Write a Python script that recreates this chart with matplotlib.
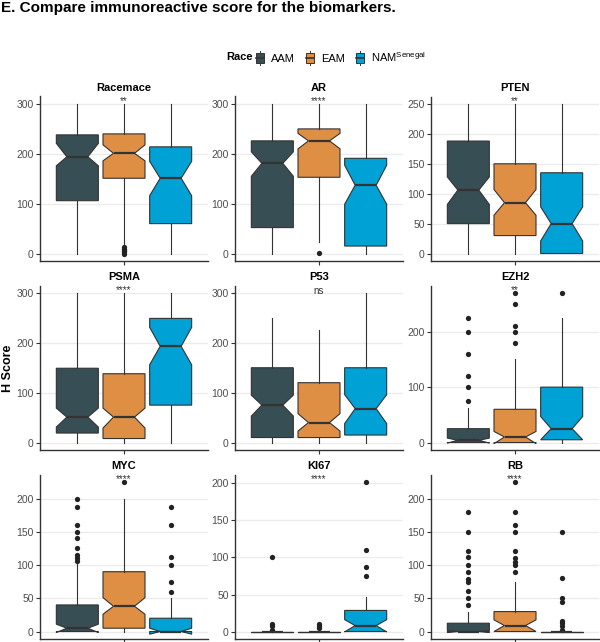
import matplotlib
matplotlib.use("Agg")
import matplotlib.pyplot as plt
from matplotlib.legend_handler import HandlerBase
from matplotlib.lines import Line2D
from matplotlib.patches import Patch, Rectangle

plt.rcParams['font.family'] = ['Liberation Sans', 'DejaVu Sans']
plt.rcParams['mathtext.fontset'] = 'custom'
plt.rcParams['mathtext.rm'] = 'Liberation Sans'

# --- data (H score summary per biomarker, per group) ---
markers = ["Racemace", "AR", "PTEN", "PSMA", "P53", "EZH2", "MYC", "KI67", "RB"]
stars = ["**", "****", "**", "****", "ns", "**", "****", "****", "****"]
groups = ["AAM", "EAM", r"NAM$^{\mathrm{Senegal}}$"]
colors = ["#374E55", "#DF8F44", "#00A1D5"]

# columns: AAM, EAM, NAM
whislo = [[0, 20, 0], [0, 23, 0], [0, 0, 0], [0, 0, 0], [0, 0, 0],
          [0, 0, 0], [0, 0, 0], [0, 0, 0], [0, 0, 0]]
q1 = [[106, 151, 60], [52, 153, 15], [50, 30, 0], [19, 8, 75], [10, 10, 15],
      [0, 0, 5], [0, 5, 0], [0, 0, 0], [0, 0, 0]]
med = [[194, 201, 151], [181, 226, 137], [106, 85, 50], [51, 51, 193], [75, 40, 68],
       [4, 10, 25], [5, 38, 0], [0, 0, 8], [0, 9, 0]]
q3 = [[238, 240, 214], [226, 250, 191], [188, 150, 135], [149, 138, 249], [150, 120, 150],
      [25, 60, 100], [40, 90, 20], [0, 0, 28.5], [12.5, 30, 0]]
whishi = [[300, 300, 300], [300, 300, 300], [250, 250, 250], [300, 300, 300], [250, 225, 300],
          [63, 150, 225], [101, 200, 50], [0, 0, 46.5], [30, 75, 0]]
ci_lo = [[176, 186, 116], [155, 210, 99], [82, 64, 21], [31, 29, 156], [53, 23, 38],
         [-1, -2, 5], [-1.5, 26, -4], [0, 0, -0.5], [-1.5, 0, 0]]
ci_hi = [[221, 218, 185], [204, 241, 177], [128, 107, 78], [69, 69, 231], [95, 58, 96],
         [8, 20, 47], [11, 51, 5], [0, 0, 16], [1.5, 17.5, 0]]
outliers = [
    [[], [0, 3, 5, 8, 10, 13], []],
    [[], [1], []],
    [[], [], []],
    [[], [], []],
    [[], [], []],
    [[75, 100, 120, 160, 200, 225], [180, 200, 210, 250, 270], [270]],
    [[106, 111, 115, 126, 140, 150, 160, 187.5, 200], [225], [60, 75, 100, 112.5, 160, 187.5]],
    [[2, 7, 10, 100], [5, 8, 10], [74.5, 87.5, 110.5, 202]],
    [[40, 50, 61, 74, 79, 90, 100, 112.5, 121, 150, 180],
     [90, 100, 105, 111, 121, 150, 160, 180, 225],
     [2.5, 9, 12.5, 16, 45, 51, 81, 150]],
]
ystep = [100, 100, 50, 100, 100, 100, 50, 50, 50]


class BoxKey(HandlerBase):
    def create_artists(self, legend, orig, xd, yd, w, h, fs, trans):
        x0, y0 = -xd, -yd
        cx = x0 + w / 2
        whisk = Line2D([cx, cx], [y0 - 0.25 * h, y0 + 1.25 * h], color="#333333", lw=0.7, transform=trans)
        box = Rectangle((x0, y0), w, h, facecolor=orig.get_facecolor(), edgecolor="#333333",
                        lw=0.7, transform=trans)
        mid = Line2D([x0, x0 + w], [y0 + h / 2] * 2, color="#333333", lw=1.2, transform=trans)
        return [whisk, box, mid]


fig = plt.figure(figsize=(6.0, 6.42), dpi=100)

col_left = [40, 235, 431]
row_top = [96.5, 285.5, 474.5]
pw, ph = 168, 164.5
pos = [2 / 3, 1, 4 / 3]

for i, name in enumerate(markers):
    r, c = divmod(i, 3)
    ax = fig.add_axes([col_left[c] / 600, 1 - (row_top[r] + ph) / 642, pw / 600, ph / 642])
    stats = []
    for g in range(3):
        stats.append(dict(med=med[i][g], q1=q1[i][g], q3=q3[i][g], whislo=whislo[i][g],
                          whishi=whishi[i][g], cilo=ci_lo[i][g], cihi=ci_hi[i][g],
                          fliers=outliers[i][g]))
    bp = ax.bxp(stats, positions=pos, widths=0.3, patch_artist=True, shownotches=True,
                showcaps=False,
                boxprops=dict(edgecolor="#333333", linewidth=0.8),
                medianprops=dict(color="#333333", linewidth=1.6),
                whiskerprops=dict(color="#333333", linewidth=0.8),
                flierprops=dict(marker="o", markerfacecolor="#222222", markeredgecolor="none",
                                markersize=3.8))
    for patch, col in zip(bp["boxes"], colors):
        patch.set_facecolor(col)

    lo = min(min(whislo[i]), min(min(o) if o else 0 for o in outliers[i]))
    hi = max(max(whishi[i]), max(max(o) if o else 0 for o in outliers[i]))
    pad = (hi - lo) * 0.05
    ax.set_ylim(lo - pad, hi + pad)
    ax.set_yticks([v for v in range(0, int(hi) + 1, ystep[i])])
    ax.set_xlim(0.4, 1.6)
    ax.set_xticks([1])
    ax.set_xticklabels([""])

    ax.yaxis.grid(True, color="#EBEBEB", linewidth=0.9)
    ax.set_axisbelow(True)
    for s in ["top", "right"]:
        ax.spines[s].set_visible(False)
    for s in ["left", "bottom"]:
        ax.spines[s].set_color("#333333")
        ax.spines[s].set_linewidth(1.0)
    ax.tick_params(axis="both", length=3, width=0.8, color="#333333",
                   labelsize=7.5, labelcolor="#4D4D4D", pad=1.5)

    ax.set_title(name, fontsize=8, fontweight="bold", pad=4)
    ax.text(0.5, 1.0, stars[i], transform=ax.transAxes, ha="center", va="top",
            fontsize=7, color="#333333")

fig.text(0.002, 1 - 8 / 642, "E. Compare immunoreactive score for the biomarkers.",
         ha="left", va="center", fontsize=11, fontweight="bold")
fig.text(8 / 600, 1 - 368 / 642, "H Score", rotation=90, ha="center", va="center",
         fontsize=9, fontweight="bold")

fig.text(226 / 600, 1 - 57 / 642, "Race", ha="left", va="center", fontsize=8, fontweight="bold")
handles = [Patch(facecolor=c) for c in colors]
fig.legend(handles, groups, loc="center left", bbox_to_anchor=(256 / 600, 1 - 57 / 642),
           ncol=3, frameon=False, fontsize=8, handlelength=0.75, handleheight=0.9,
           handletextpad=0.6, columnspacing=1.0, borderpad=0, borderaxespad=0,
           handler_map={Patch: BoxKey()})

fig.savefig("out.png", dpi=100)
